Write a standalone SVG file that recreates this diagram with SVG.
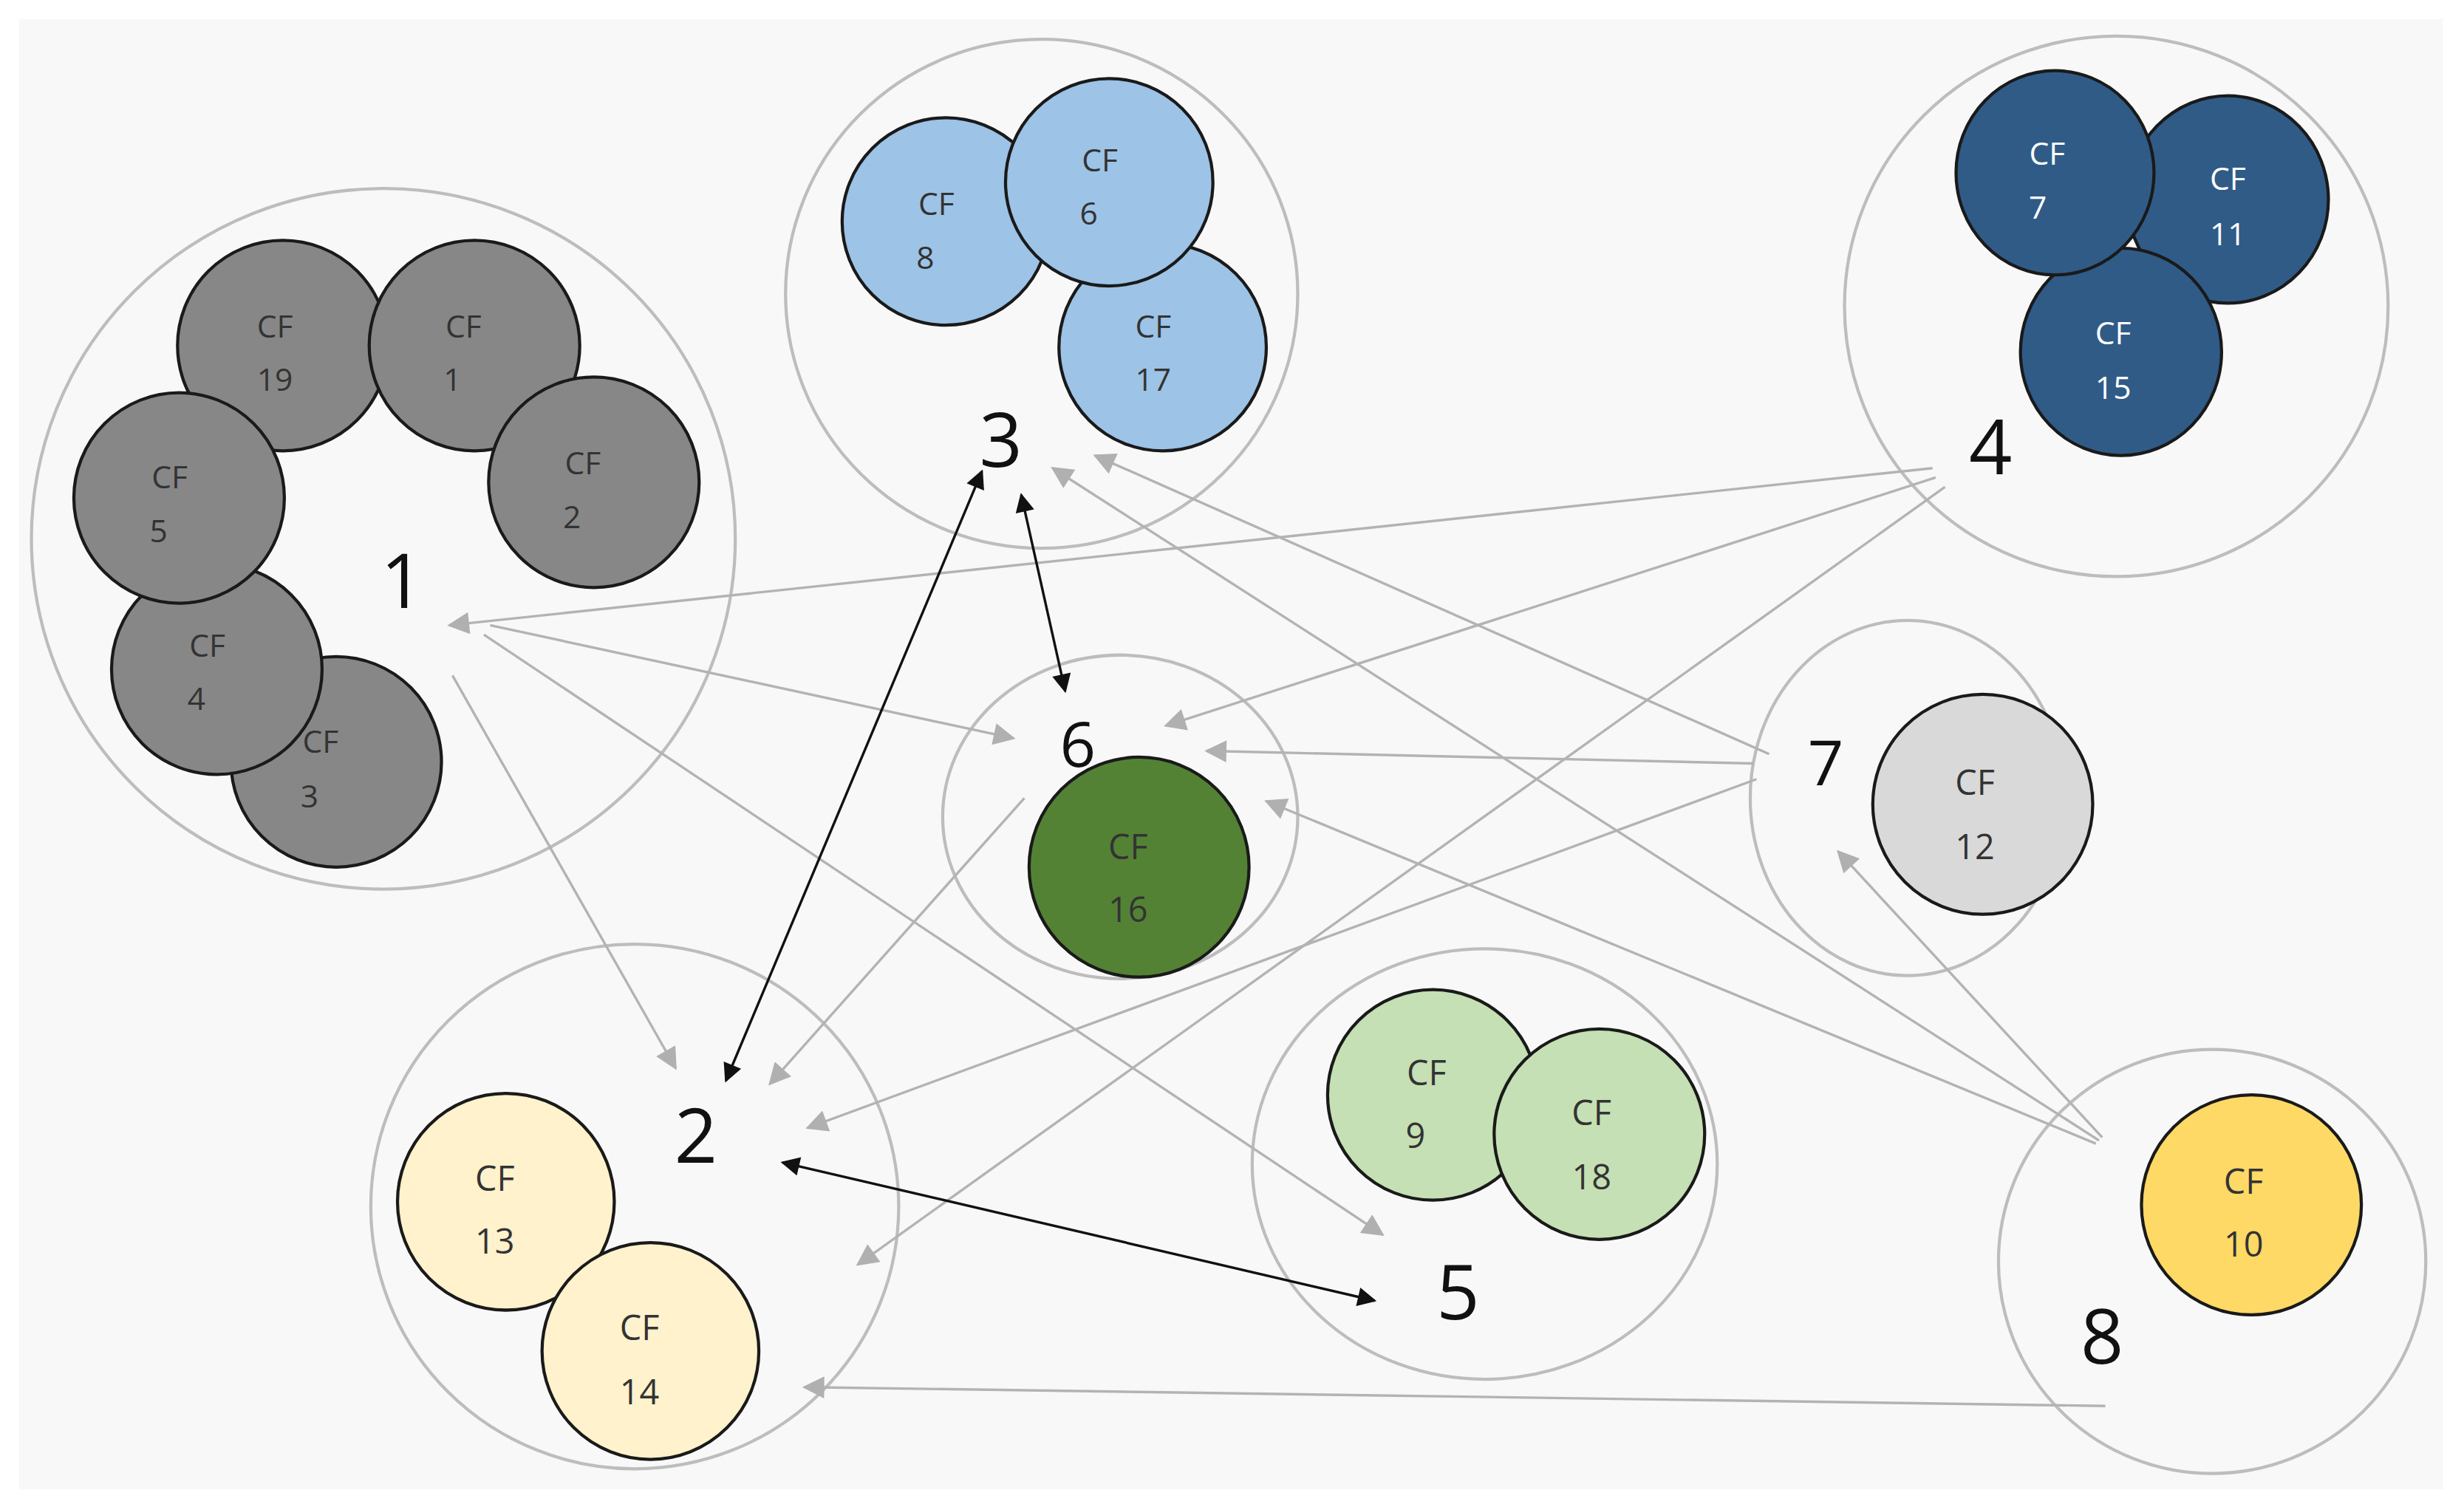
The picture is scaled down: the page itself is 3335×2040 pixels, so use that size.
<svg xmlns="http://www.w3.org/2000/svg" width="3335" height="2040" viewBox="0 0 3335 2040">
<style>
.grp{fill:none;stroke:#bdbdbd;stroke-width:2}
.cf{stroke:#1a1a1a;stroke-width:2}
.t{font-family:"Open Sans","Noto Sans",sans-serif;font-size:20px;fill:#333;text-anchor:middle}
.tw{fill:#fff}
.tb{font-size:22px}
.n{font-family:"Open Sans","Noto Sans",sans-serif;font-size:48px;fill:#111;text-anchor:middle}
.g{stroke:#b3b3b3;stroke-width:1.6;fill:none;marker-end:url(#ag)}
.k{stroke:#111;stroke-width:1.6;fill:none;marker-end:url(#ak);marker-start:url(#aks)}
</style>
<defs>
<marker id="ag" viewBox="0 0 10 10" refX="9" refY="5" markerWidth="16" markerHeight="14" markerUnits="userSpaceOnUse" orient="auto"><path d="M0,0L10,5L0,10z" fill="#b0b0b0"/></marker>
<marker id="ak" viewBox="0 0 10 10" refX="9" refY="5" markerWidth="16" markerHeight="12" markerUnits="userSpaceOnUse" orient="auto"><path d="M0,0L10,5L0,10z" fill="#111"/></marker>
<marker id="aks" viewBox="0 0 10 10" refX="1" refY="5" markerWidth="16" markerHeight="12" markerUnits="userSpaceOnUse" orient="auto"><path d="M10,0L0,5L10,10z" fill="#111"/></marker>
</defs>
<rect width="3335" height="2040" fill="#fff"/>
<g transform="scale(2.1265)">
<rect x="12" y="12" width="1543" height="936" fill="#f8f8f8"/>
<g id="node1">
<ellipse class="grp" cx="244" cy="343" rx="224" ry="223"/>
<circle class="cf" cx="180" cy="220" r="67" fill="#878787"/>
<circle class="cf" cx="302" cy="220" r="67" fill="#878787"/>
<circle class="cf" cx="378" cy="307" r="67" fill="#878787"/>
<circle class="cf" cx="214" cy="485" r="67" fill="#878787"/>
<circle class="cf" cx="138" cy="426" r="67" fill="#878787"/>
<circle class="cf" cx="114" cy="317" r="67" fill="#878787"/>
<text class="t" x="175" y="215">CF</text><text class="t" x="175" y="249">19</text>
<text class="t" x="295" y="215">CF</text><text class="t" x="288" y="249">1</text>
<text class="t" x="371" y="302">CF</text><text class="t" x="364" y="336">2</text>
<text class="t" x="108" y="311">CF</text><text class="t" x="101" y="345">5</text>
<text class="t" x="132" y="418">CF</text><text class="t" x="125" y="452">4</text>
<text class="t" x="204" y="479">CF</text><text class="t" x="197" y="514">3</text>
<text class="n" x="256" y="387">1</text>
</g>
<g id="node3">
<ellipse class="grp" cx="663" cy="187" rx="163" ry="162"/>
<circle class="cf" cx="602" cy="141" r="66" fill="#9dc3e6"/>
<circle class="cf" cx="740" cy="221" r="66" fill="#9dc3e6"/>
<circle class="cf" cx="706" cy="116" r="66" fill="#9dc3e6"/>
<text class="t" x="596" y="137">CF</text><text class="t" x="589" y="171">8</text>
<text class="t" x="700" y="109">CF</text><text class="t" x="693" y="143">6</text>
<text class="t" x="734" y="215">CF</text><text class="t" x="734" y="249">17</text>
<text class="n" x="637" y="297">3</text>
</g>
<g id="node4">
<ellipse class="grp" cx="1347" cy="195" rx="173" ry="172"/>
<ellipse class="cf" cx="1418" cy="127" rx="64" ry="66" fill="#305b87"/>
<ellipse class="cf" cx="1350" cy="224" rx="64" ry="66" fill="#305b87"/>
<ellipse class="cf" cx="1308" cy="110" rx="63" ry="65" fill="#305b87"/>
<text class="t tw" x="1303" y="105">CF</text><text class="t tw" x="1297" y="139">7</text>
<text class="t tw" x="1418" y="121">CF</text><text class="t tw" x="1418" y="156">11</text>
<text class="t tw" x="1345" y="219">CF</text><text class="t tw" x="1345" y="254">15</text>
<text class="n" x="1267" y="302">4</text>
</g>
<g id="node6">
<ellipse class="grp" cx="713" cy="520" rx="113" ry="103"/>
<circle class="cf" cx="725" cy="552" r="70" fill="#548235"/>
<text class="t tb" x="718" y="547">CF</text><text class="t tb" x="718" y="587">16</text>
<text class="n" x="686" y="488" style="font-size:40px">6</text>
</g>
<g id="node7">
<ellipse class="grp" cx="1214" cy="508" rx="100" ry="113"/>
<circle class="cf" cx="1262" cy="512" r="70" fill="#d9d9d9"/>
<text class="t tb" x="1257" y="506">CF</text><text class="t tb" x="1257" y="547">12</text>
<text class="n" x="1162" y="500" style="font-size:40px">7</text>
</g>
<g id="node2">
<ellipse class="grp" cx="404" cy="768" rx="168" ry="167"/>
<circle class="cf" cx="322" cy="765" r="69" fill="#fff2cc"/>
<circle class="cf" cx="414" cy="860" r="69" fill="#fff2cc"/>
<text class="t tb" x="315" y="758">CF</text><text class="t tb" x="315" y="798">13</text>
<text class="t tb" x="407" y="853">CF</text><text class="t tb" x="407" y="894">14</text>
<text class="n" x="443" y="740">2</text>
</g>
<g id="node5">
<ellipse class="grp" cx="945" cy="741" rx="148" ry="137"/>
<circle class="cf" cx="912" cy="697" r="67" fill="#c5e0b4"/>
<circle class="cf" cx="1018" cy="722" r="67" fill="#c5e0b4"/>
<text class="t tb" x="908" y="691">CF</text><text class="t tb" x="901" y="731">9</text>
<text class="t tb" x="1013" y="716">CF</text><text class="t tb" x="1013" y="757">18</text>
<text class="n" x="928" y="840">5</text>
</g>
<g id="node8">
<ellipse class="grp" cx="1408" cy="803" rx="136" ry="135"/>
<circle class="cf" cx="1433" cy="767" r="70" fill="#ffd966"/>
<text class="t tb" x="1428" y="760">CF</text><text class="t tb" x="1428" y="800">10</text>
<text class="n" x="1338" y="868">8</text>
</g>
<g id="connectors">
<line class="g" x1="1230" y1="298" x2="286" y2="398"/>
<line class="g" x1="1232" y1="304" x2="742" y2="462"/>
<line class="g" x1="1238" y1="310" x2="546" y2="805"/>
<line class="g" x1="312" y1="398" x2="645" y2="470"/>
<line class="g" x1="308" y1="404" x2="880" y2="786"/>
<line class="g" x1="288" y1="430" x2="430" y2="680"/>
<line class="g" x1="652" y1="508" x2="490" y2="690"/>
<line class="g" x1="1116" y1="486" x2="768" y2="478"/>
<line class="g" x1="1118" y1="496" x2="514" y2="718"/>
<line class="g" x1="1126" y1="480" x2="697" y2="290"/>
<line class="g" x1="1338" y1="724" x2="1170" y2="542"/>
<line class="g" x1="1336" y1="726" x2="670" y2="298"/>
<line class="g" x1="1334" y1="728" x2="806" y2="510"/>
<line class="g" x1="1340" y1="895" x2="512" y2="883"/>
<line class="k" x1="462" y1="688" x2="625" y2="300"/>
<line class="k" x1="650" y1="315" x2="678" y2="440"/>
<line class="k" x1="498" y1="740" x2="875" y2="828"/>
</g>
</g>
</svg>
